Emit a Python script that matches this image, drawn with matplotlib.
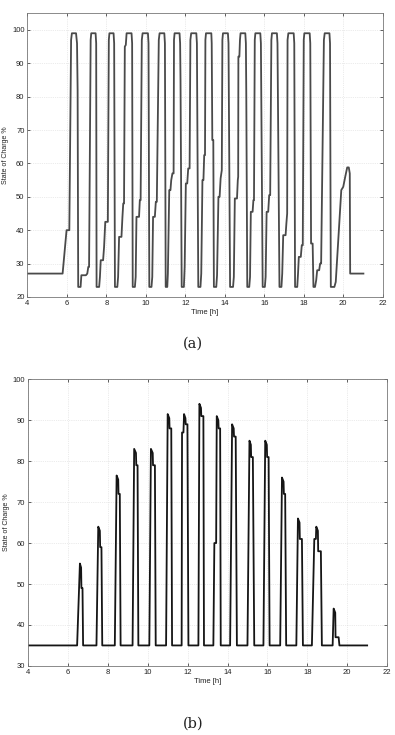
import matplotlib
matplotlib.use("Agg")
import matplotlib.pyplot as plt
import numpy as np

# ---------------- data (a) : SOC trace knots ----------------
a_t = [4.00, 5.79, 5.99, 6.13, 6.22, 6.26,
       6.47, 6.52, 6.55, 6.58,
       6.70, 6.74, 6.97, 7.04, 7.09, 7.13, 7.21, 7.24,
       7.46, 7.49, 7.51,
       7.64, 7.68, 7.72, 7.84, 7.89, 7.95, 8.08, 8.13, 8.16,
       8.37, 8.40, 8.44,
       8.56, 8.60, 8.65, 8.77, 8.82, 8.86, 8.90, 8.94, 8.99, 9.03,
       9.28, 9.31, 9.34,
       9.45, 9.49, 9.53, 9.66, 9.70, 9.74, 9.80, 9.84,
       10.11, 10.14, 10.18,
       10.29, 10.33, 10.37, 10.46, 10.51, 10.56, 10.66, 10.70,
       10.94, 10.97, 11.01,
       11.09, 11.12, 11.19, 11.25, 11.29, 11.35, 11.41, 11.43, 11.46,
       11.71, 11.74, 11.76, 11.82,
       11.93, 11.97, 12.03, 12.10, 12.15, 12.22, 12.26, 12.30,
       12.56, 12.59, 12.66,
       12.77, 12.81, 12.87, 12.92, 12.96, 13.00, 13.02, 13.05,
       13.32, 13.34, 13.37, 13.42, 13.45,
       13.57, 13.61, 13.68, 13.74, 13.79, 13.85, 13.88, 13.91,
       14.16, 14.19, 14.27,
       14.42, 14.46, 14.51, 14.62, 14.66, 14.68, 14.69, 14.74, 14.77, 14.80,
       15.04, 15.07, 15.09, 15.14,
       15.24, 15.28, 15.32, 15.41, 15.45, 15.48, 15.52, 15.55,
       15.80, 15.83, 15.92,
       16.03, 16.07, 16.12, 16.20, 16.25, 16.30, 16.36, 16.39,
       16.64, 16.67, 16.77,
       16.87, 16.91, 16.96, 17.08, 17.12, 17.16, 17.18, 17.22,
       17.49, 17.52, 17.56,
       17.67, 17.71, 17.75, 17.85, 17.90, 17.95, 18.00, 18.03,
       18.30, 18.33, 18.37, 18.45, 18.49,
       18.57, 18.63, 18.68, 18.78, 18.83, 18.88, 19.02, 19.06,
       19.30, 19.33, 19.37,
       19.55, 19.62, 19.90, 20.00, 20.10, 20.20, 20.28, 20.33, 20.35, 21.02]
a_soc = [27, 27, 40, 40, 97, 99,
         99, 96, 82, 23,
         23, 26.5, 26.5, 27, 29, 29, 97, 99,
         99, 96, 23,
         23, 26, 31, 31, 35, 42.5, 42.5, 97, 99,
         99, 96, 23,
         23, 26, 38, 38, 44, 48, 48, 95, 95.5, 99,
         99, 96, 23,
         23, 26, 44, 44, 49, 49, 97, 99,
         99, 96, 23,
         23, 26, 44, 44, 48.5, 48.5, 97, 99,
         99, 96, 23,
         23, 27, 52, 52, 55, 57, 57, 97, 99,
         99, 96, 85, 23,
         23, 29, 54, 54, 58.5, 58.5, 97, 99,
         99, 96, 23,
         23, 27, 55, 55, 62.5, 62.5, 97, 99,
         99, 96, 67, 67, 23,
         23, 26.5, 50, 50, 55.5, 58, 97, 99,
         99, 96, 23,
         23, 26, 49.5, 49.5, 55, 56, 92, 92, 97, 99,
         99, 96, 81, 23,
         23, 26, 45.5, 45.5, 49, 49, 97, 99,
         99, 96, 23,
         23, 26, 45.5, 45.5, 50.5, 50.5, 97, 99,
         99, 96, 23,
         23, 27, 38.5, 38.5, 42, 45, 97, 99,
         99, 96, 23,
         23, 27, 32, 32, 35.5, 35.5, 97, 99,
         99, 96, 36, 36, 23,
         23, 25, 28, 28, 30, 30, 97, 99,
         99, 96, 23,
         23, 24.5, 52, 53, 56, 58.8, 58.8, 57, 27, 27]

# ---------------- data (b) : bumps over a 35 % baseline ----------------
b_base = 35
b_start, b_end = 4.0, 21.0
b_rise = [6.46, 7.43, 8.35, 9.24, 10.08, 10.92, 11.70, 12.54, 13.29, 14.13, 15.00, 15.80, 16.64, 17.45, 18.23, 19.27]
b_peak_t0 = [6.60, 7.52, 8.44, 9.32, 10.16, 11.00, 11.82, 12.59, 13.46, 14.23, 15.10, 15.89, 16.73, 17.53, 18.45, 19.32]
b_peak_t1 = [6.66, 7.60, 8.52, 9.41, 10.25, 11.08, 11.89, 12.67, 13.54, 14.31, 15.17, 15.97, 16.81, 17.61, 18.53, 19.40]
b_peak = [55, 64, 76.5, 83, 83, 91.5, 91.5, 94, 91, 89, 85, 85, 76, 66, 64, 44]
b_shoulder = [49, 59, 72, 79, 79, 88, 89, 91, 88, 86, 81, 81, 72, 61, 58, 37]
b_shoulder_t1 = [6.73, 7.68, 8.60, 9.49, 10.36, 11.18, 11.99, 12.79, 13.63, 14.41, 15.27, 16.06, 16.89, 17.73, 18.68, 19.57]
b_fall = [6.76, 7.72, 8.64, 9.53, 10.40, 11.22, 12.04, 12.82, 13.66, 14.47, 15.34, 16.11, 16.94, 17.78, 18.73, 19.61]
# intermediate plateaus on some rising edges: (bump index, level, t0, t1)
b_pre_idx = [6, 8, 14]
b_pre_level = [87, 60, 61]
b_pre_t0 = [11.72, 13.34, 18.35]
b_pre_t1 = [11.79, 13.43, 18.43]

x_ticks = [4, 6, 8, 10, 12, 14, 16, 18, 20, 22]
a_yticks = [20, 30, 40, 50, 60, 70, 80, 90, 100]
b_yticks = [30, 40, 50, 60, 70, 80, 90, 100]

# build (b) trace
bt, bs = [b_start], [b_base]
for i in range(len(b_rise)):
    bt.append(b_rise[i]); bs.append(b_base)
    if i in b_pre_idx:
        k = b_pre_idx.index(i)
        bt += [b_pre_t0[k], b_pre_t1[k]]; bs += [b_pre_level[k], b_pre_level[k]]
    bt += [b_peak_t0[i], b_peak_t1[i], b_peak_t1[i] + 0.015, b_shoulder_t1[i], b_fall[i]]
    bs += [b_peak[i], b_peak[i] - 1.0, b_shoulder[i], b_shoulder[i], b_base]
bt.append(b_end); bs.append(b_base)

# ---------------- figure ----------------
plt.rcParams['font.family'] = ['Liberation Sans', 'DejaVu Sans']
fig = plt.figure(figsize=(3.95, 7.35), dpi=100)

def style(ax, yt, ylim):
    ax.set_xlim(4, 22)
    ax.set_ylim(*ylim)
    ax.set_xticks(x_ticks)
    ax.set_yticks(yt)
    ax.tick_params(direction='in', length=2.5, width=0.5, labelsize=5.5,
                   colors='#222222', pad=2, top=True, right=True)
    for s in ax.spines.values():
        s.set_color('#777777'); s.set_linewidth(0.6)
    ax.grid(True, color='#d8d8d8', linewidth=0.5, linestyle=':')
    ax.set_xlabel('Time [h]', fontsize=5.5, labelpad=1.5, color='#222222')
    ax.set_ylabel('State of Charge %', fontsize=5, labelpad=2, color='#222222')

ax1 = fig.add_axes([0.069, 0.596, 0.900, 0.386])
ax1.plot(a_t, a_soc, color='#4a4a4a', lw=1.3, solid_joinstyle='round')
style(ax1, a_yticks, (20, 105))

ax2 = fig.add_axes([0.071, 0.094, 0.909, 0.390])
ax2.plot(bt, bs, color='#151515', lw=1.3, solid_joinstyle='round')
style(ax2, b_yticks, (30, 100))

fig.text(0.489, 0.533, '(a)', ha='center', va='center', fontsize=10.5,
         family=['DejaVu Serif'], color='#222222')
fig.text(0.489, 0.016, '(b)', ha='center', va='center', fontsize=10.5,
         family=['DejaVu Serif'], color='#222222')

fig.savefig('out.png', dpi=100)
